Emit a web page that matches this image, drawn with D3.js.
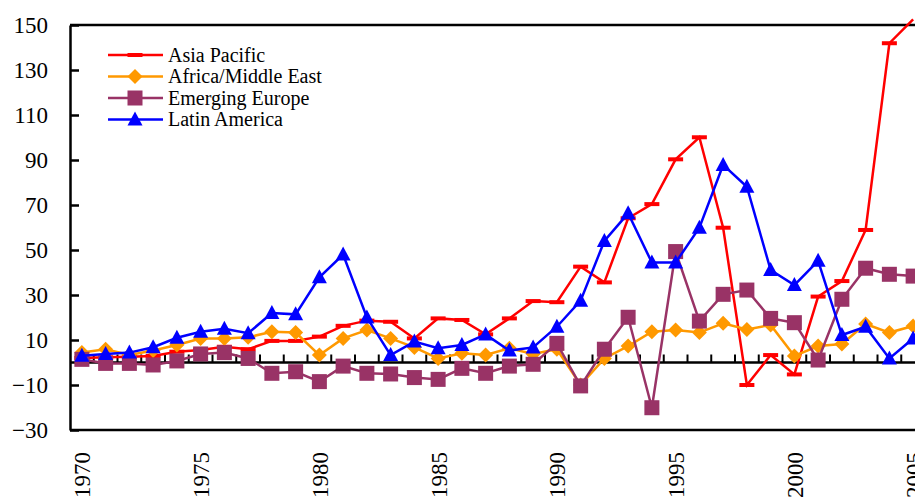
<!DOCTYPE html>
<html>
<head>
<meta charset="utf-8">
<script src="https://cdn.jsdelivr.net/npm/d3@7"></script>
<style>
  body { margin: 0; background: #fff; }
  svg { display: block; }
  svg text { font-family: "Liberation Serif", "Times New Roman", Times, "DejaVu Serif", serif; }
</style>
</head>
<body>
<div id="chart"></div>
<script>
// data
const years = d3.range(1970, 2006);
const seriesNames = ["Asia Pacific", "Africa/Middle East", "Emerging Europe", "Latin America"];
const asiaPacific = [2, 2.3, 2.6, 2.9, 4.8, 5.6, 7, 5.9, 9.6, 9.6, 11.5, 16.3, 18.6, 18.1, 10.7, 19.6, 18.9, 12.5, 19.6, 27.3, 26.8, 42.6, 35.6, 64.1, 70.4, 90.3, 100.1, 59.9, -10, 3.3, -5.3, 29.3, 36.2, 58.9, 141.9, 152.5];
const africaME = [4.4, 5.9, 3.3, 5.3, 7.8, 10.7, 10.7, 11.2, 13.7, 13.3, 3.3, 10.7, 14.4, 10.7, 6.7, 1.8, 4.1, 3.3, 6.3, 3.8, 5.9, -10, 1.8, 7.3, 13.7, 14.4, 13.3, 17.4, 14.7, 16.7, 2.9, 7.3, 8.2, 17.1, 13.3, 16.2];
const emergingEurope = [1.4, -0.4, -0.4, -1.1, 0.7, 3.8, 4.4, 1.8, -4.8, -4.1, -8.5, -1.6, -4.8, -5.1, -6.7, -7.5, -2.6, -4.8, -1.6, -0.8, 8.5, -10.4, 5.9, 20.1, -20.1, 49.3, 18.4, 30.3, 32.2, 19.6, 17.7, 1.1, 28.1, 41.9, 39.2, 38.4];
const latinAmerica = [3, 3.8, 4.4, 6.8, 11, 13.7, 15, 13, 22, 21.4, 37.9, 48, 20, 3.3, 9.3, 6.3, 7.8, 12.5, 5.3, 6.7, 15.9, 27.5, 54, 66.3, 44.4, 44.4, 59.9, 87.8, 78.1, 41.1, 34.4, 45.2, 12.2, 15.9, 1.8, 10.7];
const yTicks = [-30, -10, 10, 30, 50, 70, 90, 110, 130, 150];
const xLabels = [1970, 1975, 1980, 1985, 1990, 1995, 2000, 2005];

const width = 915, height = 501;
const plotLeft = 70, plotRight = 925, plotTop = 25, plotBottom = 430;
const serif = "'Liberation Serif', 'Times New Roman', Times, 'DejaVu Serif', serif";

const series = [
  { name: seriesNames[0], values: asiaPacific, color: "#ff0000", marker: "dash" },
  { name: seriesNames[1], values: africaME, color: "#ff9900", marker: "diamond" },
  { name: seriesNames[2], values: emergingEurope, color: "#993366", marker: "square" },
  { name: seriesNames[3], values: latinAmerica, color: "#0000ff", marker: "triangle" }
];

const x = d3.scaleBand().domain(years).range([plotLeft, plotRight]).padding(0);
const xc = d => x(d) + x.bandwidth() / 2;
const y = d3.scaleLinear().domain([-30, 150]).range([plotBottom, plotTop]);

const svg = d3.select("#chart").append("svg")
  .attr("width", width)
  .attr("height", height);

// markers stay inside the plot area, lines may run past it
svg.append("clipPath").attr("id", "plotclip")
  .append("rect").attr("x", 0).attr("y", plotTop).attr("width", width).attr("height", height - plotTop);

// plot frame: top and bottom lines
svg.append("line").attr("x1", plotLeft).attr("x2", plotRight).attr("y1", y(150)).attr("y2", y(150))
  .attr("stroke", "#000").attr("stroke-width", 2.5);
svg.append("line").attr("x1", plotLeft).attr("x2", plotRight).attr("y1", y(-30)).attr("y2", y(-30))
  .attr("stroke", "#000").attr("stroke-width", 2.5);

// y axis with inward ticks
const yAxis = svg.append("g")
  .attr("transform", "translate(" + plotLeft + ",0)")
  .call(d3.axisLeft(y).tickValues(yTicks).tickSizeInner(-9).tickSizeOuter(0).tickPadding(22).tickFormat(d3.format("d")));
yAxis.attr("font-family", serif);
yAxis.select(".domain").attr("stroke-width", 2.5);
yAxis.selectAll(".tick line").attr("stroke-width", 2.5);
yAxis.selectAll("text").attr("font-size", 23).attr("fill", "#000");

// x labels at the bottom, rotated
const xPoint = d3.scalePoint().domain(years).range([xc(1970), xc(2005)]);
const xAxis = svg.append("g")
  .attr("transform", "translate(0," + plotBottom + ")")
  .call(d3.axisBottom(xPoint).tickValues(xLabels).tickSize(0).tickFormat(d3.format("d")));
xAxis.attr("font-family", serif);
xAxis.select(".domain").remove();
xAxis.selectAll("text")
  .attr("transform", "rotate(-90)")
  .attr("x", -22).attr("y", 0).attr("dy", "0.35em")
  .attr("text-anchor", "end")
  .attr("font-size", 23).attr("fill", "#000");

// zero line with category ticks
svg.append("line").attr("x1", plotLeft).attr("x2", plotRight).attr("y1", y(0)).attr("y2", y(0))
  .attr("stroke", "#000").attr("stroke-width", 2.5);
svg.selectAll(".cattick")
  .data(years.slice(1))
  .join("line")
  .attr("class", "cattick")
  .attr("x1", d => x(d)).attr("x2", d => x(d))
  .attr("y1", y(0)).attr("y2", y(0) - 8)
  .attr("stroke", "#000").attr("stroke-width", 2);

const line = d3.line().x((d, i) => xc(years[i])).y(d => y(d));

function drawMarker(g, type, color) {
  if (type === "dash") {
    g.append("rect").attr("x", -7.5).attr("y", -2).attr("width", 15).attr("height", 4).attr("fill", color);
  } else if (type === "diamond") {
    g.append("path").attr("d", "M0,-7.5L7.5,0L0,7.5L-7.5,0Z").attr("fill", color);
  } else if (type === "square") {
    g.append("rect").attr("x", -7.5).attr("y", -7.5).attr("width", 15).attr("height", 15).attr("fill", color);
  } else {
    g.append("path").attr("d", "M0,-8L7.5,6L-7.5,6Z").attr("fill", color);
  }
}

series.forEach(s => {
  svg.append("path")
    .datum(s.values)
    .attr("d", line)
    .attr("fill", "none")
    .attr("stroke", s.color)
    .attr("stroke-width", 2.5);
  svg.append("g").attr("clip-path", "url(#plotclip)")
    .selectAll("g")
    .data(s.values)
    .join("g")
    .attr("transform", (d, i) => "translate(" + xc(years[i]) + "," + y(d) + ")")
    .each(function () { drawMarker(d3.select(this), s.marker, s.color); });
});

// legend
const legend = svg.append("g").attr("transform", "translate(108,55)");
series.forEach((s, i) => {
  const row = legend.append("g").attr("transform", "translate(0," + (i * 21.5) + ")");
  row.append("line").attr("x1", 0).attr("x2", 55).attr("y1", 0).attr("y2", 0)
    .attr("stroke", s.color).attr("stroke-width", 2.5);
  const m = row.append("g").attr("transform", "translate(27,0)");
  drawMarker(m, s.marker, s.color);
  row.append("text").attr("x", 60).attr("y", 0).attr("dy", "0.33em")
    .attr("font-family", serif)
    .attr("font-size", 20).attr("fill", "#000").text(s.name);
});
</script>
</body>
</html>
